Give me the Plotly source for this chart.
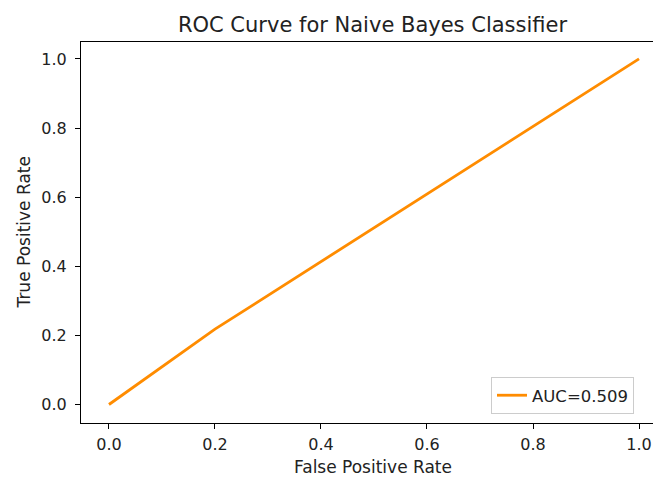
import plotly.graph_objects as go

fpr = [0.0, 0.2, 1.0]
tpr = [0.0, 0.218, 1.0]
auc_label = "AUC=0.509"
x_ticks = [0.0, 0.2, 0.4, 0.6, 0.8, 1.0]
y_ticks = [0.0, 0.2, 0.4, 0.6, 0.8, 1.0]

W, H = 653, 480
L, R, T, B = 81, 0, 42, 57
pw = W - L - R
ph = H - T - B

font = "DejaVu Sans"
txt = "#222222"

fig = go.Figure()
fig.add_trace(go.Scatter(x=fpr, y=tpr, mode="lines", name=auc_label,
                         line=dict(color="#ff8c00", width=2.8)))

fig.update_layout(
    width=W, height=H,
    margin=dict(l=L, r=R, t=T, b=B, pad=0),
    plot_bgcolor="white", paper_bgcolor="white",
    font=dict(family=font, size=16, color=txt),
    title=dict(text="ROC Curve for Naive Bayes Classifier", xref="paper",
               x=(372.5 - L) / pw, xanchor="center", yref="container",
               y=1 - 25 / H, yanchor="middle", font=dict(size=21, color=txt)),
    showlegend=True,
    legend=dict(x=(491 - L) / pw, xanchor="left", y=(423 - 414) / ph, yanchor="bottom",
                bordercolor="#cccccc", borderwidth=1, bgcolor="rgba(255,255,255,0.8)",
                font=dict(size=16.5, color=txt)),
)
fig.update_xaxes(range=[-0.0528, (W - 109) / 530.0], tickvals=x_ticks,
                 ticktext=[f"{v:.1f}" for v in x_ticks],
                 showgrid=False, zeroline=False, showline=True, linecolor="black",
                 linewidth=1, mirror=True, ticks="outside", ticklen=5, tickcolor="black",
                 ticklabelstandoff=2,
                 tickfont=dict(size=16, color=txt))
fig.update_yaxes(range=[-0.0535, 1.049], tickvals=y_ticks,
                 ticktext=[f"{v:.1f}" for v in y_ticks],
                 showgrid=False, zeroline=False, showline=True, linecolor="black",
                 linewidth=1, mirror=False, ticks="outside", ticklen=5, tickcolor="black",
                 ticklabelstandoff=5,
                 tickfont=dict(size=16, color=txt))
fig.add_annotation(text="False Positive Rate", xref="paper", yref="paper",
                   x=(372.5 - L) / pw, y=-(467 - (T + ph)) / ph, xanchor="center",
                   yanchor="middle", showarrow=False, font=dict(size=17, color=txt))
fig.add_annotation(text="True Positive Rate", xref="paper", yref="paper",
                   x=-(L - 23) / pw, y=0.5, xanchor="center", yanchor="middle",
                   textangle=-90, showarrow=False, font=dict(size=17, color=txt))

fig.write_html("out.html")
